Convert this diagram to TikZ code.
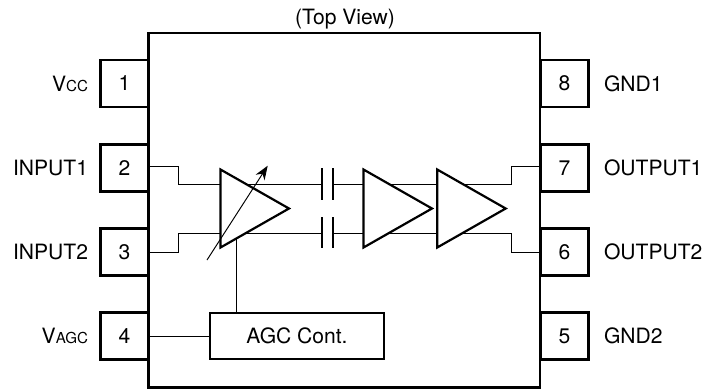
\documentclass[tikz,border=0pt]{standalone}
\usepackage{fontspec}
\setmainfont{TeX Gyre Heros}
\usetikzlibrary{shapes.geometric,arrows.meta}

\tikzset{
    pinbox/.style={draw,line width=1.25pt,fill=white,minimum width=.96cm,minimum height=.94cm,inner sep=0pt,outer sep=0pt},
    ampbox/.style={draw,line width=1.25pt,fill=white,isosceles triangle,isosceles triangle stretches,shape border rotate=0,
        minimum width=1.56cm,minimum height=1.37cm,inner sep=0pt,outer sep=0pt,anchor=apex},
    wire/.style={line width=.55pt},
    plate/.style={line width=1.25pt},
    pinname/.style={inner sep=0pt,outer sep=0pt}
}
\newcommand{\smallcaps}[1]{{\fontsize{8.6}{10}\selectfont #1}}

\begin{document}
\begin{tikzpicture}[x=.02cm,y=-.02cm,font=\fontsize{12}{14}\selectfont]
    \useasboundingbox (0,0) rectangle (706,390);

    % Package outline
    \node[draw,line width=1.25pt,minimum width=7.83cm,minimum height=7.09cm,inner sep=0pt,outer sep=0pt] (package) at (344.2,210.3) {};
    \node (topview) at (345,19.5) {(Top View)};

    % Pins on both sides
    \foreach \n/\y in {1/83.5,2/168,3/252,4/336}
        \node[pinbox] (pin\n) at (124.5,\y) {\n};
    \foreach \n/\y in {8/83.5,7/168,6/252,5/336}
        \node[pinbox] (pin\n) at (564.5,\y) {\n};

    % Pin names
    \node[pinname,anchor=east] (namea) at (88,83.5) {V\smallcaps{CC}};
    \node[pinname,anchor=east] (nameb) at (88,168) {INPUT1};
    \node[pinname,anchor=east] (namec) at (88,252) {INPUT2};
    \node[pinname,anchor=east] (named) at (88,336) {V\smallcaps{AGC}};
    \node[pinname,anchor=west] (nameh) at (604,83.5) {GND1};
    \node[pinname,anchor=west] (nameg) at (604,168) {OUTPUT1};
    \node[pinname,anchor=west] (namef) at (604,252) {OUTPUT2};
    \node[pinname,anchor=west] (namee) at (604,336) {GND2};

    % Where the wires turn
    \coordinate (intop) at (148.5,166);
    \coordinate (inbot) at (148.5,252.3);
    \coordinate (stepa) at (178.7,184.3);
    \coordinate (stepb) at (178.7,233.3);
    \coordinate (outtop) at (540,166);
    \coordinate (outbot) at (540,252.3);
    \coordinate (stepc) at (511.3,184.3);
    \coordinate (stepd) at (511.3,233.3);

    % Wires first, the amplifiers cover them
    \draw[wire] (intop) -| (stepa) -- (stepc) |- (outtop);
    \draw[wire] (inbot) -| (stepb) -- (stepd) |- (outbot);

    % AGC block
    \node[draw,line width=1.25pt,minimum width=3.48cm,minimum height=.93cm,inner sep=0pt,outer sep=0pt] (agc) at (297,336) {AGC Cont.};
    \coordinate (agcin) at (148.5,336);
    \draw[wire] (agcin) -- (agc.west);
    \coordinate (agcup) at (236.7,312.7);
    \draw[wire] (agcup) -- (236.7,235);

    % Amplifiers
    \node[ampbox] (ampa) at (289,208.5) {};
    \node[ampbox] (ampb) at (432,208.5) {};
    \node[ampbox] (ampc) at (505.7,208.5) {};

    % Capacitors
    \fill[white] (321.7,180) rectangle (333.3,190);
    \fill[white] (321.7,228) rectangle (333.3,238);
    \foreach \x in {321.7,333.3} {
        \draw[plate] (\x,168) -- (\x,200);
        \draw[plate] (\x,217) -- (\x,248);
    }

    % Gain control arrow
    \coordinate (arrowa) at (207,260);
    \coordinate (arrowb) at (267.7,165.7);
    \draw[wire,-{Stealth[length=8pt,width=6pt]}] (arrowa) -- (arrowb);
\end{tikzpicture}
\end{document}
